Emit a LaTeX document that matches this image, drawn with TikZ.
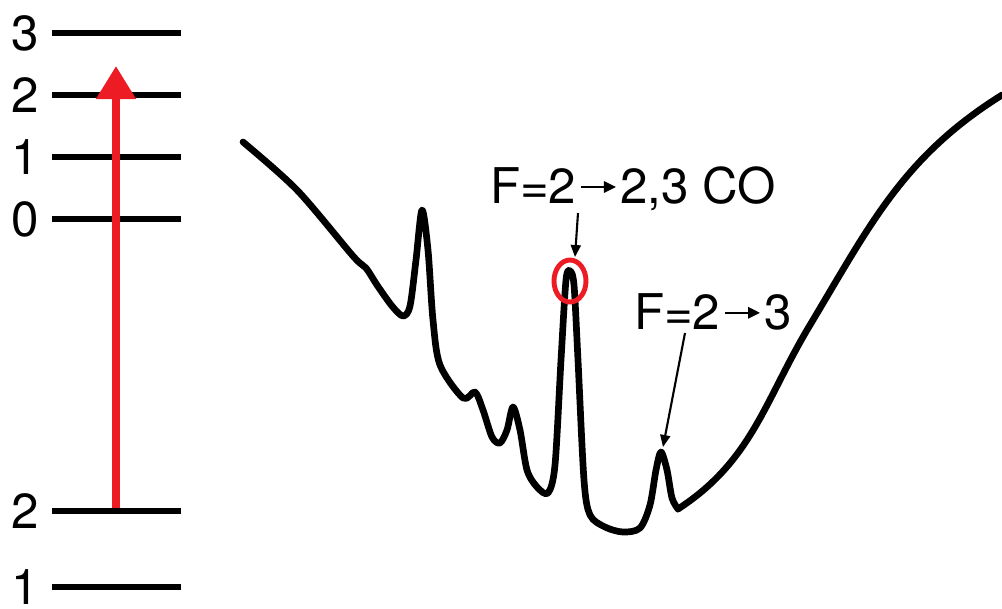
\documentclass[tikz,border=0pt]{standalone}
\usepackage{fontspec}
\setmainfont{TeX Gyre Heros}
\usepackage{tikz}
\usepackage{xcolor}
\usetikzlibrary{positioning, calc, arrows.meta}
\definecolor{pumpRed}{RGB}{237,28,36}
\definecolor{ink}{RGB}{0,0,0}
\newcommand{\tarrow}{\hspace{1pt}\tikz[baseline=-0.65ex]\draw[ink, line width=0.6pt, -{Triangle[length=3.4pt,width=3.2pt]}] (0pt,0pt) -- (10pt,0pt);\hspace{1pt}}

\begin{document}
\begin{tikzpicture}[x=0.01cm, y=-0.01cm,
    level/.style={ink, line width=1.6pt},
    lvlabel/.style={font=\fontsize{14}{16}\selectfont, inner sep=0pt},
    peaklabel/.style={font=\fontsize{14}{16}\selectfont, inner sep=0pt},
    trace/.style={ink, line width=1.9pt, line join=round, line cap=round},
    pointer/.style={ink, line width=0.6pt, -{Triangle[length=1.2mm,width=1mm]}}]
    \useasboundingbox (0,0) rectangle (1002,608);
    % hyperfine levels
    \foreach \y/\f/\n in {33/3/u3, 95/2/u2, 157/1/u1, 219/0/u0, 511/2/l2, 587/1/l1} {
        \node[lvlabel] (\n) at (25,\y) {\f};
        \draw[level] (52,\y) -- (181,\y);
    }
    \coordinate (pumpFrom) at (116,508);
    \coordinate (pumpTo) at (116,66);
    \draw[pumpRed, line width=2.2pt, -{Triangle[length=3.3mm,width=3.8mm]}] (pumpFrom) -- (pumpTo);
    % spectrum
    \draw[trace] plot[smooth, tension=0.5] coordinates {
        (243,142) (297,190) (353,256) (366,268) (377,285) (392,306) (403,316) (410,306)
        (416,260) (422,210) (428,250) (433,320) (440,365) (463,398) (475,392) (483,410)
        (492,437) (500,443) (507,430) (513,407) (520,430) (527,470) (537,487) (548,493)
        (555,465) (561,360) (566,280) (570,271) (574,285) (578,360) (584,480) (590,515)
        (605,527) (623,532) (640,528) (650,505) (656,470) (661,452) (667,470) (672,498)
        (678,509)};
    \draw[trace] (678,509) to[out=33, in=239] (810,325) to[out=59, in=212] (1002,95);
    \draw[pumpRed, line width=1.4pt] (570,281) ellipse (16 and 21);
    % labels
    \node[peaklabel] (coLabel) at (633,189) {F=2\tarrow2,3 CO};
    \node[peaklabel] (fLabel) at (713,312) {F=2\tarrow3};
    \coordinate (coFrom) at (578,213);
    \coordinate (coPeak) at (575,257);
    \coordinate (fFrom) at (685,333);
    \coordinate (fPeak) at (663,447);
    \draw[pointer] (coFrom) -- (coPeak);
    \draw[pointer] (fFrom) -- (fPeak);
\end{tikzpicture}
\end{document}
